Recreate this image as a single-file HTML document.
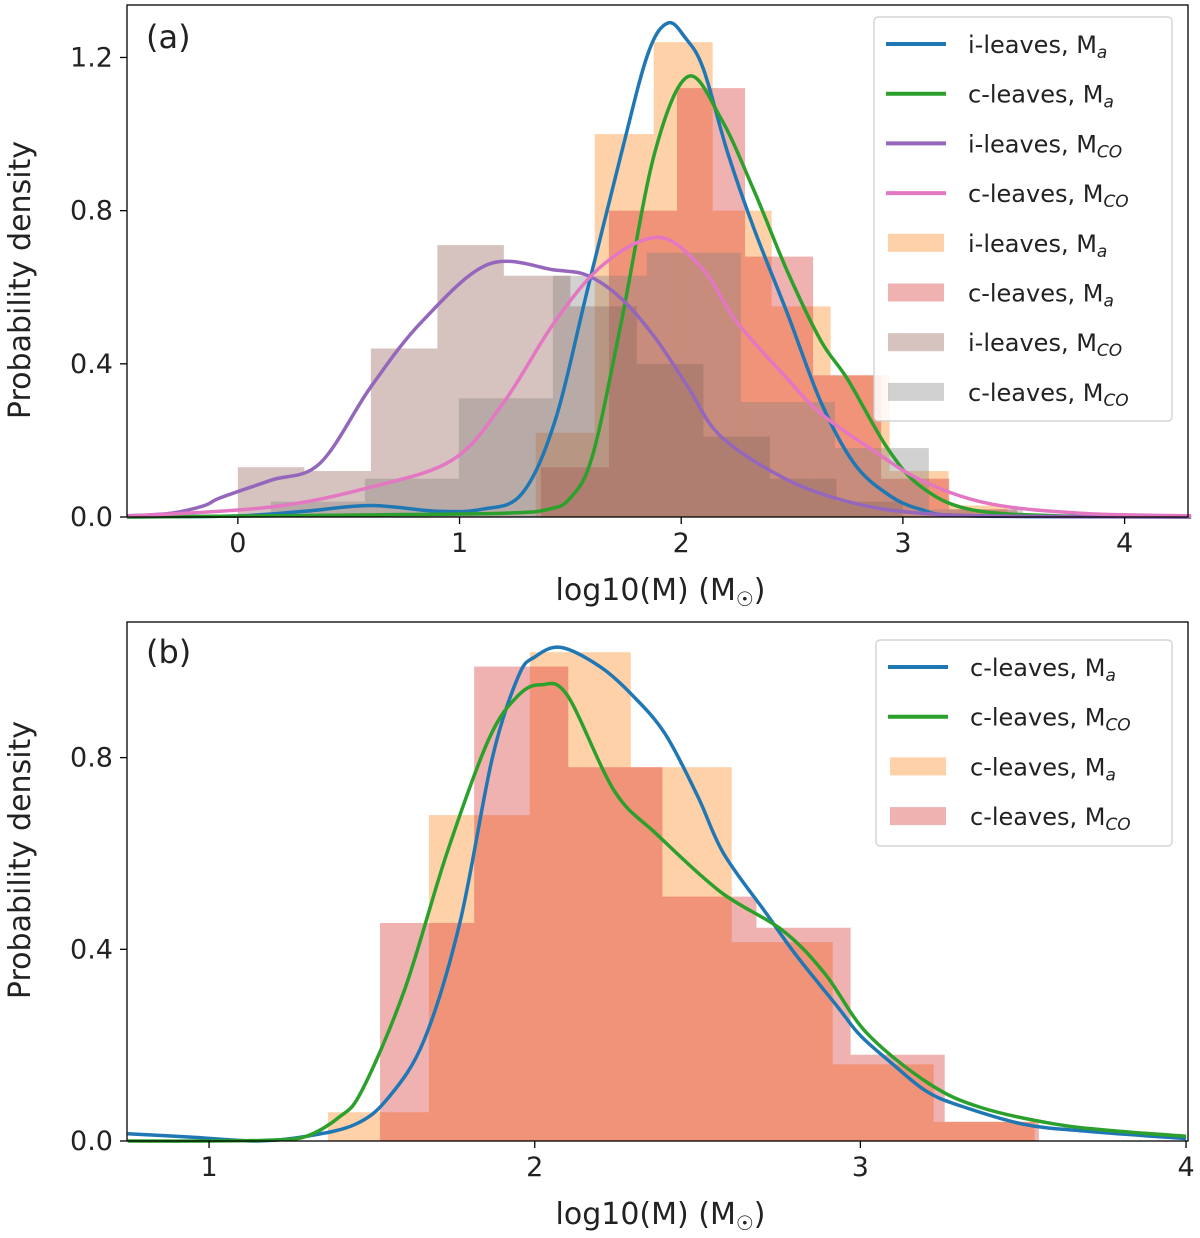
<!DOCTYPE html>
<html><head><meta charset="utf-8">
<style>
html,body{margin:0;padding:0;background:#fff;}
svg{display:block;font-family:"DejaVu Sans","Liberation Sans",sans-serif;}
</style></head>
<body>
<svg id="chart" width="1200" height="1238" viewBox="0 0 1200 1238" xmlns="http://www.w3.org/2000/svg"></svg>
<script>
// ---------- Panel (a) data ----------
const aXTicks = [0, 1, 2, 3, 4];
const aYTicks = [0.0, 0.4, 0.8, 1.2];
const aHistIMaStart = 1.344, aHistIMaWidth = 0.266;
const aHistIMa = [0.22, 1.0, 1.24, 0.8, 0.55, 0.37, 0.12, 0.03];
const aHistCMaStart = 1.367, aHistCMaWidth = 0.307;
const aHistCMa = [0.13, 0.8, 1.12, 0.68, 0.37, 0.1, 0.02];
const aHistIMcoStart = 0.0, aHistIMcoWidth = 0.3;
const aHistIMco = [0.13, 0.12, 0.44, 0.71, 0.63, 0.55, 0.40, 0.21, 0.10, 0.04];
const aHistCMcoStart = 0.149, aHistCMcoWidth = 0.424;
const aHistCMco = [0.04, 0.10, 0.31, 0.63, 0.69, 0.30, 0.18, 0.02];
const aKdeIMaX = [-0.5,0,0.3,0.6,0.9,1.1,1.28,1.43,1.58,1.73,1.85,1.94,2.02,2.1,2.21,2.33,2.48,2.63,2.78,2.93,3.08,3.3,4.3];
const aKdeIMaY = [0,0.003,0.015,0.03,0.015,0.02,0.06,0.25,0.6,0.95,1.21,1.29,1.25,1.17,0.95,0.75,0.53,0.3,0.14,0.06,0.02,0.003,0];
const aKdeCMaX = [-0.5,0.5,1.2,1.4,1.5,1.6,1.73,1.88,2.03,2.18,2.33,2.48,2.63,2.75,2.93,3.08,3.3,3.7,4.3];
const aKdeCMaY = [0,0.005,0.01,0.02,0.05,0.16,0.51,0.95,1.15,1.04,0.85,0.64,0.46,0.36,0.18,0.08,0.02,0.003,0];
const aKdeIMcoX = [-0.5,-0.3,-0.15,-0.08,0.15,0.37,0.6,0.83,1.13,1.43,1.58,1.73,1.88,2.03,2.18,2.48,2.78,3.08,3.5,4.3];
const aKdeIMcoY = [0.003,0.01,0.03,0.05,0.096,0.14,0.34,0.51,0.66,0.645,0.63,0.57,0.47,0.34,0.21,0.097,0.036,0.01,0.002,0];
const aKdeCMcoX = [-0.5,0.15,0.6,0.97,1.2,1.43,1.65,1.9,2.1,2.25,2.48,2.63,2.85,3.08,3.38,3.8,4.3];
const aKdeCMcoY = [0.002,0.026,0.078,0.15,0.3,0.51,0.66,0.73,0.645,0.51,0.36,0.27,0.18,0.097,0.036,0.01,0.003];

// ---------- Panel (b) data ----------
const bXTicks = [1, 2, 3, 4];
const bYTicks = [0.0, 0.4, 0.8];
const bHistCMaStart = 1.365, bHistCMaWidth = 0.31;
const bHistCMa = [0.06, 0.68, 1.02, 0.78, 0.415, 0.16, 0.04];
const bHistCMcoStart = 1.525, bHistCMcoWidth = 0.289;
const bHistCMco = [0.455, 0.99, 0.78, 0.51, 0.445, 0.18, 0.04];
const bKdeCMaX = [0.75,0.95,1.15,1.3,1.45,1.55,1.66,1.77,1.87,1.95,2.0,2.08,2.2,2.3,2.4,2.5,2.58,2.71,2.8,2.93,3.0,3.1,3.2,3.3,3.5,3.7,4.0];
const bKdeCMaY = [0.015,0.008,0.0,0.01,0.035,0.09,0.21,0.455,0.8,0.97,1.01,1.03,0.99,0.93,0.85,0.72,0.6,0.476,0.39,0.28,0.22,0.16,0.105,0.075,0.035,0.02,0.005];
const bKdeCMcoX = [0.75,1.0,1.2,1.3,1.4,1.47,1.6,1.73,1.86,1.95,2.02,2.1,2.245,2.375,2.57,2.76,2.89,3.02,3.21,3.37,3.6,3.8,4.0];
const bKdeCMcoY = [0.0,0.0,0.002,0.01,0.05,0.106,0.315,0.6,0.84,0.93,0.952,0.93,0.73,0.64,0.52,0.44,0.35,0.225,0.12,0.07,0.035,0.02,0.01];

const C = {blue:'#1f77b4', green:'#2ca02c', purple:'#9467bd', pink:'#e377c2',
  orange:'rgba(255,127,14,0.36)', red:'rgba(214,39,40,0.36)', brown:'rgba(140,86,75,0.36)', grey:'rgba(127,127,127,0.36)'};

const NS = 'http://www.w3.org/2000/svg';
const svg = document.getElementById('chart');
function mk(tag, attrs, parent){
  const e = document.createElementNS(NS, tag);
  for (const k in attrs) e.setAttribute(k, attrs[k]);
  (parent||svg).appendChild(e);
  return e;
}
function makeAxes(x0,x1,y0,y1,px0,px1,py0,py1){
  return {
    x: v => px0 + (v - x0) / (x1 - x0) * (px1 - px0),
    y: v => py0 + (v - y0) / (y1 - y0) * (py1 - py0)
  };
}
function crPath(xs, ys, ax){
  const p = xs.map((v,i)=>[ax.x(v), ax.y(ys[i])]);
  let d = 'M' + p[0][0].toFixed(1) + ',' + p[0][1].toFixed(1);
  for (let i=0;i<p.length-1;i++){
    const p0 = p[Math.max(0,i-1)], p1=p[i], p2=p[i+1], p3=p[Math.min(p.length-1,i+2)];
    const c1x = p1[0]+(p2[0]-p0[0])/6, c1y = p1[1]+(p2[1]-p0[1])/6;
    const c2x = p2[0]-(p3[0]-p1[0])/6, c2y = p2[1]-(p3[1]-p1[1])/6;
    d += ' C'+c1x.toFixed(1)+','+c1y.toFixed(1)+' '+c2x.toFixed(1)+','+c2y.toFixed(1)+' '+p2[0].toFixed(1)+','+p2[1].toFixed(1);
  }
  return d;
}
function drawHist(g, ax, start, width, vals, color, name){
  vals.forEach((v,i)=>{
    const xa = ax.x(start + i*width), xb = ax.x(start + (i+1)*width);
    const r = mk('rect', {x:xa, y:ax.y(v), width:xb-xa, height:ax.y(0)-ax.y(v), fill:color}, g);
    
    
  });
}
function drawKde(g, ax, xs, ys, color, name){
  const p = mk('path', {d:crPath(xs, ys, ax), fill:'none', stroke:color, 'stroke-width':3.5, 'stroke-linejoin':'round'}, g);
  
  
}
function drawFrame(ax, L,R,T,B, xt, yt, yfmt, label, ylabelY){
  xt.forEach(t=>{
    const X = ax.x(t);
    const l = mk('line',{x1:X,x2:X,y1:B,y2:B+7,stroke:'#000','stroke-width':1.3});
     
    const tx = mk('text',{x:X,y:B+35,'text-anchor':'middle','font-size':27,fill:'#222'});
    tx.textContent = t;
     
  });
  yt.forEach(t=>{
    const Y = ax.y(t);
    const l = mk('line',{x1:L-7,x2:L,y1:Y,y2:Y,stroke:'#000','stroke-width':1.3});
     
    const tx = mk('text',{x:L-14,y:Y+9,'text-anchor':'end','font-size':27,fill:'#222'});
    tx.textContent = t.toFixed(1);
     
  });
  const f = mk('rect',{x:L,y:T,width:R-L,height:B-T,fill:'none',stroke:'#000','stroke-width':1.3});
   
  const xl = mk('text',{x:(L+R)/2+3,y:B+83,'text-anchor':'middle','font-size':30,fill:'#222'});
  xl.innerHTML = 'log10(M) (M<tspan font-size="20" dy="6">☉</tspan><tspan dy="-6">)</tspan>';
   
  const yl = mk('text',{x:0,y:0,'text-anchor':'middle','font-size':30,fill:'#222',transform:'translate(30,'+ylabelY+') rotate(-90)'});
  yl.textContent = 'Probability density';
   
}
function drawLegend(x,y,w,h,items,name){
  const g = mk('g',{});
   
  mk('rect',{x:x,y:y,width:w,height:h,rx:4,fill:'rgba(255,255,255,0.85)',stroke:'#ccc','stroke-width':1.2},g);
  items.forEach((it,i)=>{
    const cy = y + 27 + i*49.7;
    const eg = mk('g',{},g);
     
    if (it.type==='line') mk('line',{x1:x+12,x2:x+72,y1:cy,y2:cy,stroke:it.color,'stroke-width':4},eg);
    else mk('rect',{x:x+14,y:cy-9,width:56,height:18,fill:it.color},eg);
    const t = mk('text',{x:x+94,y:cy+9,'font-size':24,fill:'#222'},eg);
    t.innerHTML = it.label + ', M<tspan font-size="17" dy="5" font-style="italic">' + it.sub + '</tspan>';
  });
}

// ---------- Panel (a) ----------
const axA = makeAxes(-0.5, 4.286, 0, 1.337, 127, 1188, 517, 5);
const gA = mk('g',{});  
drawHist(gA, axA, aHistIMaStart, aHistIMaWidth, aHistIMa, C.orange, 'a-hist-i-leaves-ma');
drawHist(gA, axA, aHistCMaStart, aHistCMaWidth, aHistCMa, C.red, 'a-hist-c-leaves-ma');
drawHist(gA, axA, aHistIMcoStart, aHistIMcoWidth, aHistIMco, C.brown, 'a-hist-i-leaves-mco');
drawHist(gA, axA, aHistCMcoStart, aHistCMcoWidth, aHistCMco, C.grey, 'a-hist-c-leaves-mco');
drawKde(gA, axA, aKdeIMaX, aKdeIMaY, C.blue, 'a-kde-i-leaves-ma');
drawKde(gA, axA, aKdeCMaX, aKdeCMaY, C.green, 'a-kde-c-leaves-ma');
drawKde(gA, axA, aKdeIMcoX, aKdeIMcoY, C.purple, 'a-kde-i-leaves-mco');
drawKde(gA, axA, aKdeCMcoX, aKdeCMcoY, C.pink, 'a-kde-c-leaves-mco');
drawFrame(axA, 127,1188,5,517, aXTicks, aYTicks, null, '', 280);
const ta = mk('text',{x:146,y:48,'font-size':32,fill:'#222'}); ta.textContent='(a)';
 
drawLegend(874,17,298,404,[
 {type:'line',color:C.blue,label:'i-leaves',sub:'a'},
 {type:'line',color:C.green,label:'c-leaves',sub:'a'},
 {type:'line',color:C.purple,label:'i-leaves',sub:'CO'},
 {type:'line',color:C.pink,label:'c-leaves',sub:'CO'},
 {type:'rect',color:C.orange,label:'i-leaves',sub:'a'},
 {type:'rect',color:C.red,label:'c-leaves',sub:'a'},
 {type:'rect',color:C.brown,label:'i-leaves',sub:'CO'},
 {type:'rect',color:C.grey,label:'c-leaves',sub:'CO'}
],'legend-a');

// ---------- Panel (b) ----------
const axB = makeAxes(0.748, 4.006, 0, 1.083, 127, 1188, 1141, 622);
const gB = mk('g',{});  
drawHist(gB, axB, bHistCMaStart, bHistCMaWidth, bHistCMa, C.orange, 'b-hist-c-leaves-ma');
drawHist(gB, axB, bHistCMcoStart, bHistCMcoWidth, bHistCMco, C.red, 'b-hist-c-leaves-mco');
drawKde(gB, axB, bKdeCMaX, bKdeCMaY, C.blue, 'b-kde-c-leaves-ma');
drawKde(gB, axB, bKdeCMcoX, bKdeCMcoY, C.green, 'b-kde-c-leaves-mco');
drawFrame(axB, 127,1188,622,1141, bXTicks, bYTicks, null, '', 860);
const tb = mk('text',{x:146,y:663,'font-size':32,fill:'#222'}); tb.textContent='(b)';
 
drawLegend(876,640,296,206,[
 {type:'line',color:C.blue,label:'c-leaves',sub:'a'},
 {type:'line',color:C.green,label:'c-leaves',sub:'CO'},
 {type:'rect',color:C.orange,label:'c-leaves',sub:'a'},
 {type:'rect',color:C.red,label:'c-leaves',sub:'CO'}
],'legend-b');
</script>
</body></html>
